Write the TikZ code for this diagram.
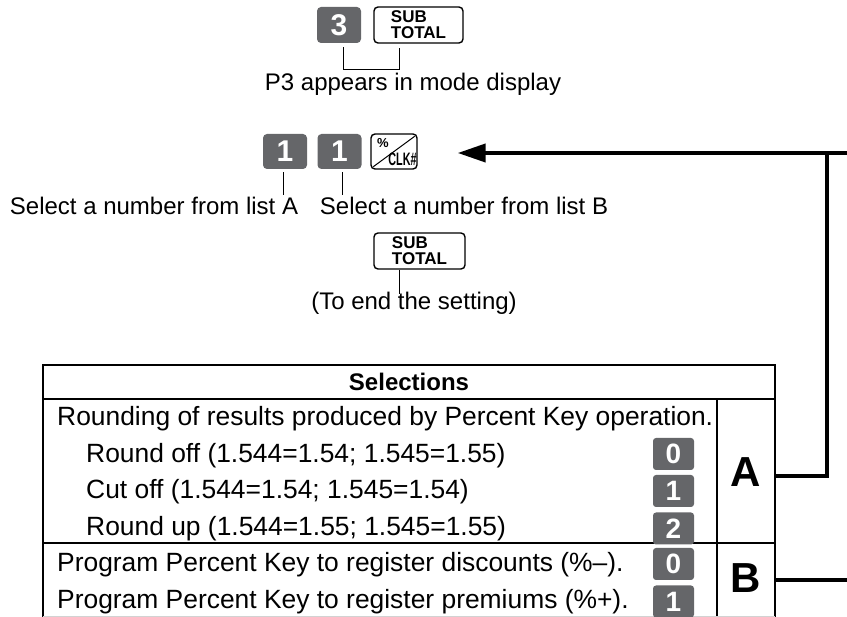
\documentclass[tikz,border=0pt]{standalone}
\usepackage{fontspec}
\setmainfont{Liberation Sans}
\usepackage{graphicx}
\usetikzlibrary{arrows.meta}
\definecolor{keygray}{RGB}{101,102,105}
\tikzset{
 darkkey/.style={fill=keygray, rounded corners=4pt, text=white, font=\fontsize{30}{30}\selectfont\bfseries, inner sep=0pt, minimum width=44pt, minimum height=35pt},
 outkey/.style={draw=black, line width=1.4pt, fill=white, rounded corners=4pt, inner sep=0pt},
 lbl/.style={font=\fontsize{24}{28}\selectfont, inner sep=0pt, anchor=base},
 tbl/.style={font=\fontsize{26.4}{30}\selectfont, inner sep=0pt, anchor=base west},
 thinline/.style={line width=1pt},
 conn/.style={line width=4pt},
 gridline/.style={line width=2.2pt},
 rowkey/.style={fill=keygray, rounded corners=3pt, text=white, font=\fontsize{28}{28}\selectfont\bfseries, inner sep=0pt, minimum width=41pt, minimum height=32pt},
 bigletter/.style={font=\fontsize{42}{42}\selectfont\bfseries, inner sep=0pt},
}
\begin{document}
\begin{tikzpicture}[x=1pt,y=-1pt]
\useasboundingbox (0,0) rectangle (847,617);
% top sequence
\node[darkkey, minimum height=36pt] (k3) at (339,25) {3};
\node[outkey, minimum width=89pt, minimum height=36pt, font=\fontsize{17}{16}\selectfont\bfseries, align=left] (st1) at (418.5,25) {SUB\\TOTAL};
\draw[thinline] ([shift={(4,4)}]k3.south) -- ++(0,22) -| ([shift={(-19.5,4)}]st1.south);
\node[lbl] (p3) at (413,91) {P3 appears in mode display};
% second sequence
\node[darkkey] (ka) at (285,151.5) {1};
\node[darkkey] (kb) at (339.5,151.5) {1};
\node[outkey, minimum width=46pt, minimum height=35pt] (kclk) at (394,151.5) {};
\draw[line width=1pt] ([shift={(3,-3)}]kclk.south west) -- ([shift={(-3,3)}]kclk.north east);
\node[font=\fontsize{13}{13}\selectfont\bfseries, inner sep=0pt] (pct) at (383,143) {\%};
\node[font=\fontsize{18}{18}\selectfont\bfseries, inner sep=0pt] (clk) at (402.5,159) {\scalebox{0.6}[1]{CLK\#}};
\node[lbl] (la) at (154,215) {Select a number from list A};
\node[lbl] (lb) at (464,215) {Select a number from list B};
\draw[thinline] ([shift={(-2,3)}]ka.south) -- ++(0,23);
\draw[thinline] ([shift={(2.5,3)}]kb.south) -- ++(0,23);
% end key
\node[outkey, minimum width=91pt, minimum height=36pt, font=\fontsize{17}{16}\selectfont\bfseries, align=left] (st2) at (419.5,251) {SUB\\TOTAL};
\node[lbl] (lend) at (414,310) {(To end the setting)};
\draw[thinline] ([shift={(-20.5,0)}]st2.south) -- ++(0,24);
% table
\draw[gridline] (43,617) -- (43,365) -- (775,365) -- (775,617);
\draw[gridline] (43,399) -- (775,399);
\draw[gridline] (43,543) -- (775,543);
\draw[gridline] (717,399) -- (717,617);
\draw[gray!35, line width=0.8pt] (43,616.6) -- (775,616.6);
\node[font=\fontsize{24}{24}\selectfont\bfseries, inner sep=0pt] (hdr) at (409,382) {Selections};
\node[tbl] (t1) at (57,426) {Rounding of results produced by Percent Key operation.};
\node[tbl] (t2) at (86,462.5) {Round off (1.544=1.54; 1.545=1.55)};
\node[tbl] (t3) at (86,499) {Cut off (1.544=1.54; 1.545=1.54)};
\node[tbl] (t4) at (86,535.5) {Round up (1.544=1.55; 1.545=1.55)};
\node[tbl] (t5) at (57,572) {Program Percent Key to register discounts (\%--).};
\node[tbl] (t6) at (57,608.5) {Program Percent Key to register premiums (\%+).};
\node[rowkey] (r1) at (673.5,454) {0};
\node[rowkey] (r2) at (673.5,491) {1};
\node[rowkey] (r3) at (673.5,528.5) {2};
\node[rowkey] (r4) at (673.5,564) {0};
\node[rowkey] (r5) at (673.5,601.5) {1};
\node[bigletter] (cA) at (746,472) {A};
\node[bigletter] (cB) at (746,578) {B};
% connectors
\coordinate (aout) at (775,476);
\coordinate (junc) at (827,153);
\coordinate (rt) at (847,153);
\coordinate (bout) at (775,580);
\coordinate (bend) at (847,580);
\draw[conn, shorten >=40pt, -{Triangle[length=28pt,width=18pt]}] (rt) -- (kclk.east |- rt);
\draw[conn] (aout) -| (junc);
\draw[conn] (bout) -- (bend);
\end{tikzpicture}
\end{document}
